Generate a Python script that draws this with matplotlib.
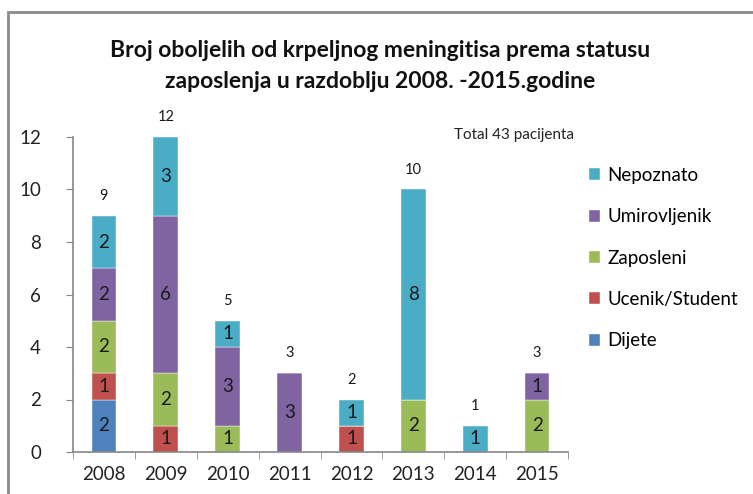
import matplotlib
matplotlib.use("Agg")
import matplotlib.pyplot as plt
from matplotlib.patches import Rectangle
import numpy as np

years = ["2008", "2009", "2010", "2011", "2012", "2013", "2014", "2015"]
dijete = [2, 0, 0, 0, 0, 0, 0, 0]
ucenik = [1, 1, 0, 0, 1, 0, 0, 0]
zaposleni = [2, 2, 1, 0, 0, 2, 0, 2]
umirovljenik = [2, 6, 3, 3, 0, 0, 0, 1]
nepoznato = [2, 3, 1, 0, 1, 8, 1, 0]
series_names = ["Dijete", "Ucenik/Student", "Zaposleni", "Umirovljenik", "Nepoznato"]
series_vals = [dijete, ucenik, zaposleni, umirovljenik, nepoznato]
colors = ["#4F81BD", "#C0504D", "#9BBB59", "#8064A2", "#4BACC6"]
title = "Broj oboljelih od krpeljnog meningitisa prema statusu\nzaposlenja u razdoblju 2008. -2015.godine"
note = "Total 43 pacijenta"

plt.rcParams['font.family'] = ['Lato', 'DejaVu Sans']

fig = plt.figure(figsize=(7.53, 4.94), dpi=100)
ax = fig.add_axes([73/753, 1-452/494, (568-73)/753, (452-137)/494])

x = np.arange(len(years))
bottom = np.zeros(len(years))
handles = []
for name, vals, c in zip(series_names, series_vals, colors):
    vals = np.array(vals, dtype=float)
    b = ax.bar(x, vals, 0.4, bottom=bottom, color=c, label=name, edgecolor='white', linewidth=0.3)
    handles.append(b)
    for xi, v, bt in zip(x, vals, bottom):
        if v > 0:
            ax.text(xi, bt + v/2, f"{int(v)}", ha='center', va='center', fontsize=13.5, color='#1a1a1a')
    bottom += vals

for xi, tot in zip(x, bottom):
    ax.annotate(f"{int(tot)}", (xi, tot), xytext=(0, 20), textcoords='offset pixels',
                ha='center', va='center', fontsize=10.5, color='#1a1a1a', annotation_clip=False)

ax.set_xlim(-0.5, len(years) - 0.5)
ax.set_ylim(0, 12)
ax.set_yticks(range(0, 13, 2))
ax.set_xticks(x)
ax.set_xticklabels(years, fontsize=13.5, color='#222222')
ax.set_xticks(np.arange(-0.5, len(years), 1), minor=True)
ax.tick_params(axis='x', which='major', length=0, pad=10)
ax.tick_params(axis='x', which='minor', length=5, color='#868686', direction='out')
ax.tick_params(axis='y', length=5, color='#868686', direction='out', labelsize=13.5, pad=18, labelcolor='#222222')
for s in ['top', 'right']:
    ax.spines[s].set_visible(False)
for s in ['left', 'bottom']:
    ax.spines[s].set_color('#868686')
    ax.spines[s].set_linewidth(1.2)

fig.text(514/753, 1-135/494, note, ha='center', va='center', fontsize=11, color='#222222')

fig.text(380/753, 1-66/494, title, ha='center', va='center', fontsize=16.5, fontweight='bold',
         color='#111111', linespacing=1.55)

leg = fig.legend(handles[::-1], series_names[::-1], loc='upper left', bbox_to_anchor=(572/753, 1-150/494),
                 frameon=False, fontsize=13.5, handlelength=0.6, handleheight=0.6, handletextpad=0.4,
                 labelspacing=1.3)

frame = Rectangle((8/753, -0.1), 1.2, 0.1 + (1-12/494), transform=fig.transFigure, fill=False,
                  edgecolor='#8a8a8a', linewidth=2, clip_on=False)
fig.patches.append(frame)

fig.savefig("out.png", dpi=100)
